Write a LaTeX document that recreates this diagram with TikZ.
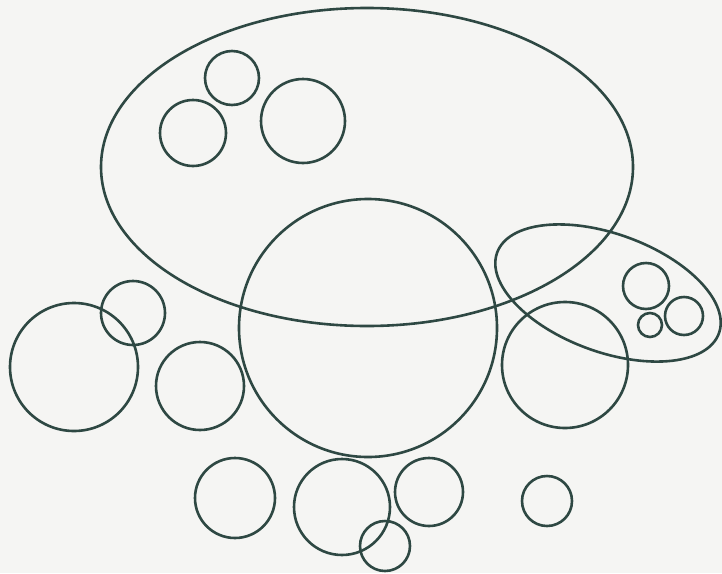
\documentclass[tikz,border=0pt]{standalone}
\usepackage{xcolor}
\definecolor{InkGreen}{HTML}{2E4843}
\definecolor{PaperGray}{HTML}{F5F5F3}
\usepackage{tikz}

\begin{document}
\begin{tikzpicture}[
  x=1pt,y=-1pt,
  ring/.style={draw=InkGreen,line width=2.6pt}
]
  \fill[PaperGray] (0,0) rectangle (722,573);
  \useasboundingbox (0,0) rectangle (722,573);
  % large ellipse and its circles
  \draw[ring] (367,167) ellipse [x radius=266,y radius=159];
  \foreach \cx/\cy/\r in {232/78/27, 193/133/33, 303/121/42}
    \draw[ring] (\cx,\cy) circle [radius=\r];
  % tilted ellipse and its circles
  \draw[ring,rotate around={-20:(608,293)}] (608,293) ellipse [x radius=118,y radius=59];
  \foreach \cx/\cy/\r in {646/286/23, 684/316/19, 650/325/12}
    \draw[ring] (\cx,\cy) circle [radius=\r];
  % middle row
  \foreach \cx/\cy/\r in {368/328/129, 74/367/64, 133/313/32, 200/386/44, 565/365/63}
    \draw[ring] (\cx,\cy) circle [radius=\r];
  % bottom row
  \foreach \cx/\cy/\r in {235/498/40, 342/507/48, 385/546/25, 429/492/34, 547/501/25}
    \draw[ring] (\cx,\cy) circle [radius=\r];
\end{tikzpicture}
\end{document}
